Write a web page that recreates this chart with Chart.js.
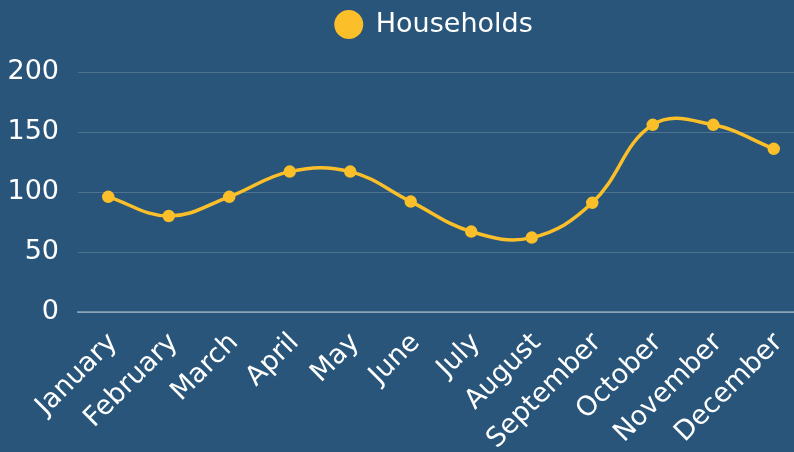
<!DOCTYPE html>
<html>
<head>
  <meta charset="utf-8" />
  <title>Households</title>
  <style>
    html, body { margin: 0; padding: 0; overflow: hidden; background: #285579; }
    #wrap { position: absolute; left: 0; top: 0; width: 868px; height: 452px; }
  </style>
</head>
<body>
  <div id="wrap"><canvas id="stage"></canvas></div>

  <script src="https://cdn.jsdelivr.net/npm/chart.js@4.4.1/dist/chart.umd.min.js"></script>
  <script>
    // データ
    const months = ['January', 'February', 'March', 'April', 'May', 'June',
      'July', 'August', 'September', 'October', 'November', 'December'];
    const households = [96, 80, 96, 117, 117, 92, 67, 62, 91, 156, 156, 136];
    const yTicks = [0, 50, 100, 150, 200];

    const FONT = '"DejaVu Sans", sans-serif';
    const YELLOW = '#fbbf2a';

    // 凡例の下に余白を足す
    const legendGap = {
      id: 'legendGap',
      beforeInit(chart) {
        const fit = chart.legend.fit;
        chart.legend.fit = function () {
          fit.bind(chart.legend)();
          this.height += 24;
        };
      }
    };

    new Chart(document.getElementById('stage'), {
      type: 'line',
      data: {
        labels: months,
        datasets: [{
          label: 'Households',
          data: households,
          borderColor: YELLOW,
          backgroundColor: YELLOW,
          borderWidth: 3.5,
          pointRadius: 4.5,
          pointHoverRadius: 5,
          tension: 0.4,
        }]
      },
      options: {
        responsive: true,
        maintainAspectRatio: false,
        animation: false,
        plugins: {
          legend: {
            labels: {
              color: '#ffffff',
              font: { family: FONT, size: 27 },
              usePointStyle: true,
              pointStyle: 'circle',
              boxHeight: 18,
              padding: 11,
            }
          },
          tooltip: { enabled: false }
        },
        scales: {
          x: {
            offset: true,
            grid: { display: false },
            border: { display: true, color: 'rgba(255,255,255,0.35)', width: 2 },
            ticks: {
              color: '#ffffff',
              font: { family: FONT, size: 27 },
              minRotation: 45,
              maxRotation: 45,
              autoSkip: false,
              padding: 7,
              labelOffset: 5,
            },
            afterFit(scale) { scale.height = 140; }
          },
          y: {
            min: yTicks[0],
            max: yTicks[yTicks.length - 1],
            border: { display: false },
            grid: { color: 'rgba(255,255,255,0.18)', drawTicks: false },
            ticks: {
              stepSize: 50,
              color: '#ffffff',
              font: { family: FONT, size: 27 },
              padding: 19,
            },
            afterFit(scale) { scale.width = 78; }
          },
          y2: {
            position: 'right',
            grid: { display: false },
            border: { display: false },
            ticks: { display: false },
            afterFit(scale) { scale.width = 64; }
          }
        }
      },
      plugins: [legendGap]
    });
  </script>
</body>
</html>
